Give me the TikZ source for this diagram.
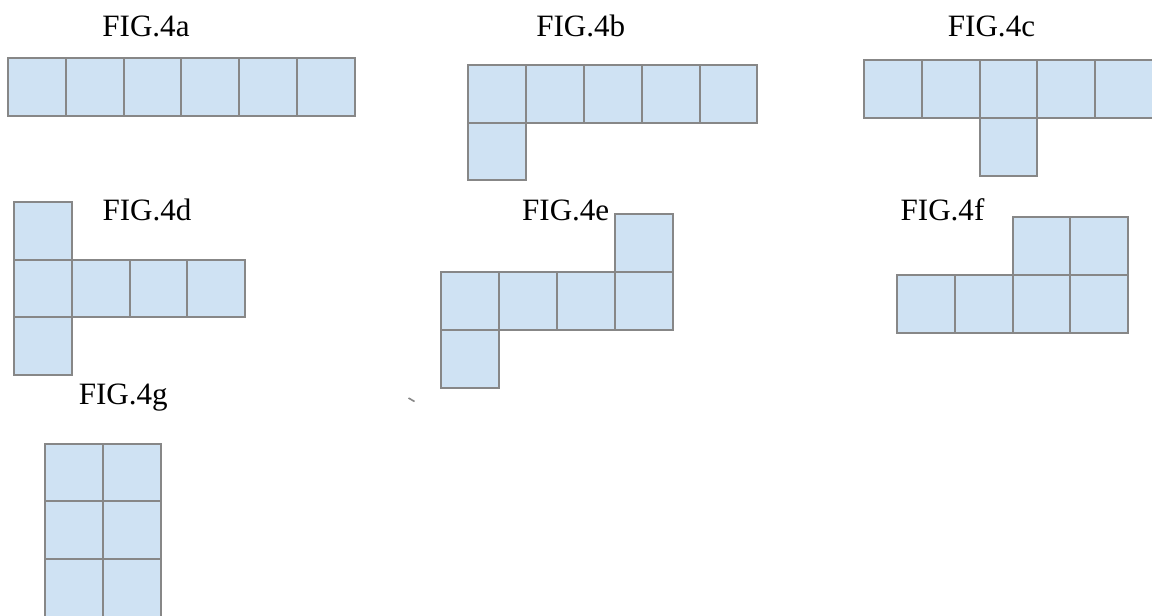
\documentclass[tikz,border=0pt]{standalone}
\usepackage{fontspec}
\setmainfont{Liberation Serif}
\definecolor{cellfill}{HTML}{CFE2F3}
\definecolor{cellline}{HTML}{878787}
\begin{document}
\begin{tikzpicture}[x=0.75pt,y=-0.75pt,
  cell/.style={rectangle,draw=cellline,fill=cellfill,line width=1.5pt,
    inner sep=0pt,outer sep=0pt,minimum size=43.35pt},
  figlabel/.style={anchor=base,inner sep=0pt,font=\fontsize{23.3}{28}\selectfont},
  tickline/.style={draw=cellline,line width=1.2pt}]
\useasboundingbox (0,0) rectangle (1152,615);
\clip (0,0) rectangle (1152,615);

% one square per cell: #1 net name, #2/#3 top-left corner, #4 list of column/row
\newcommand\netcells[4]{%
  \foreach \c/\r in {#4}{%
    \node[cell] (#1-\c-\r) at ({#2+(\c+0.5)*57.8},{#3+(\r+0.5)*57.8}) {};
  }}

% FIG.4a: straight row of six
\node[figlabel] (la) at (146,36) {FIG.4a};
\netcells{a}{8}{58}{0/0,1/0,2/0,3/0,4/0,5/0}

% FIG.4b: row of five, one below the left end
\node[figlabel] (lb) at (580.7,36) {FIG.4b};
\netcells{b}{468.3}{64.7}{0/0,1/0,2/0,3/0,4/0,0/1}

% FIG.4c: row of five, one below the middle
\node[figlabel] (lc) at (991.5,36) {FIG.4c};
\netcells{c}{864}{60.3}{0/0,1/0,2/0,3/0,4/0,2/1}

% FIG.4d: row of four, one above and one below the left end
\node[figlabel] (ld) at (147,220) {FIG.4d};
\netcells{d}{14}{201.7}{0/0,0/1,1/1,2/1,3/1,0/2}

% FIG.4e: row of four, one above the right end, one below the left end
\node[figlabel] (le) at (565.7,220.7) {FIG.4e};
\netcells{e}{441.3}{214.3}{3/0,0/1,1/1,2/1,3/1,0/2}

% FIG.4f: row of four, two above the right half
\node[figlabel] (lf) at (942.5,220.7) {FIG.4f};
\netcells{f}{897}{217.3}{2/0,3/0,0/1,1/1,2/1,3/1}

% FIG.4g: two columns of three, running off the lower edge
\node[figlabel] (lg) at (123.3,404) {FIG.4g};
\netcells{g}{45}{443.5}{0/0,1/0,0/1,1/1,0/2,1/2}

% small stray stroke
\coordinate (tickA) at (408.5,398);
\coordinate (tickB) at (414.5,401.5);
\draw[tickline] (tickA) -- (tickB);
\end{tikzpicture}
\end{document}
